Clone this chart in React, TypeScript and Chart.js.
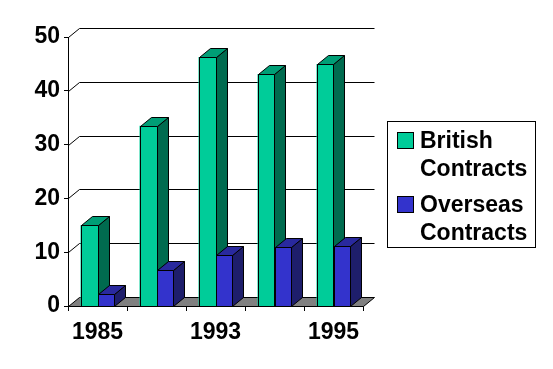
import React, { useEffect, useRef } from "react";
import { Chart, registerables } from "chart.js";

Chart.register(...registerables);

const categories = ["1985", "", "1993", "", "1995"];
const britishContracts = [15, 33.5, 46.3, 43.1, 45];
const overseasContracts = [2.2, 6.6, 9.4, 10.9, 11.2];
const seriesNames = [
  ["British", "Contracts"],
  ["Overseas", "Contracts"],
];
const yMin = 0;
const yMax = 50;
const yStep = 10;

const DX = 11;
const DY = 9;
const FONT = '"Liberation Sans", Arial, sans-serif';

const palette = [
  { front: "#00CC99", side: "#006B4F", top: "#009E76" },
  { front: "#3333CC", side: "#1E1E6B", top: "#29299E" },
];

const threeD = {
  id: "threeD",
  beforeDatasetsDraw(chart: any) {
    const { ctx, chartArea, scales } = chart;
    const { left, right, bottom } = chartArea;
    const y = scales.y;
    ctx.save();
    ctx.lineWidth = 1;
    ctx.strokeStyle = "#000";
    const b = Math.round(bottom) + 0.5;
    const l = Math.round(left) + 0.5;
    const r = Math.round(right) + 0.5;
    ctx.fillStyle = "#808080";
    ctx.beginPath();
    ctx.moveTo(l, b);
    ctx.lineTo(l + DX, b - DY);
    ctx.lineTo(r + DX, b - DY);
    ctx.lineTo(r, b);
    ctx.closePath();
    ctx.fill();
    ctx.stroke();
    for (let v = yMin + yStep; v <= yMax; v += yStep) {
      const yy = Math.round(y.getPixelForValue(v)) + 0.5;
      ctx.beginPath();
      ctx.moveTo(l, yy);
      ctx.lineTo(l + DX, yy - DY);
      ctx.lineTo(r + DX, yy - DY);
      ctx.stroke();
    }
    ctx.restore();
  },
  afterDatasetsDraw(chart: any) {
    const { ctx } = chart;
    ctx.save();
    ctx.lineWidth = 1;
    ctx.strokeStyle = "#000";
    [0, 1].forEach((di) => {
      const c = palette[di];
      const meta = chart.getDatasetMeta(di);
      meta.data.forEach((bar: any) => {
        const p = bar.getProps(["x", "y", "base", "width"], true);
        const x0 = Math.round(p.x - p.width / 2) + 0.5;
        const x1 = Math.round(p.x + p.width / 2) + 0.5;
        const yt = Math.round(p.y) + 0.5;
        const yb = Math.round(p.base) + 0.5;
        // front
        ctx.fillStyle = c.front;
        ctx.fillRect(x0, yt, x1 - x0, yb - yt);
        ctx.strokeRect(x0, yt, x1 - x0, yb - yt);
        // side
        ctx.fillStyle = c.side;
        ctx.beginPath();
        ctx.moveTo(x1, yt);
        ctx.lineTo(x1 + DX, yt - DY);
        ctx.lineTo(x1 + DX, yb - DY);
        ctx.lineTo(x1, yb);
        ctx.closePath();
        ctx.fill();
        ctx.stroke();
        // top
        ctx.fillStyle = c.top;
        ctx.beginPath();
        ctx.moveTo(x0, yt);
        ctx.lineTo(x0 + DX, yt - DY);
        ctx.lineTo(x1 + DX, yt - DY);
        ctx.lineTo(x1, yt);
        ctx.closePath();
        ctx.fill();
        ctx.stroke();
      });
    });
    ctx.restore();
  },
  afterDraw(chart: any) {
    const { ctx } = chart;
    ctx.save();
    ctx.lineWidth = 1;
    ctx.strokeStyle = "#000";
    ctx.strokeRect(387.5, 121.5, 148, 126);
    ctx.font = "bold 23px " + FONT;
    ctx.textBaseline = "alphabetic";
    ctx.textAlign = "left";
    const baselines = [148, 212];
    seriesNames.forEach((lines, i) => {
      const by = baselines[i];
      ctx.fillStyle = palette[i].front;
      ctx.fillRect(397.5, by - 15.5, 16, 16);
      ctx.strokeRect(397.5, by - 15.5, 16, 16);
      ctx.fillStyle = "#000";
      lines.forEach((t, j) => ctx.fillText(t, 420, by + j * 28));
    });
    ctx.restore();
  },
};

export default function App() {
  const ref = useRef<HTMLCanvasElement>(null);
  useEffect(() => {
    const chart = new Chart(ref.current as HTMLCanvasElement, {
      type: "bar",
      data: {
        labels: categories,
        datasets: [
          {
            label: "British Contracts",
            data: britishContracts,
            backgroundColor: palette[0].front,
            borderWidth: 0,
            barPercentage: 1,
            categoryPercentage: 0.576,
          },
          {
            label: "Overseas Contracts",
            data: overseasContracts,
            backgroundColor: palette[1].front,
            borderWidth: 0,
            barPercentage: 1,
            categoryPercentage: 0.576,
          },
        ],
      },
      options: {
        responsive: false,
        animation: false,
        devicePixelRatio: 1,
        layout: { padding: { left: 0, top: 37, right: 190, bottom: 0 } },
        plugins: { legend: { display: false }, tooltip: { enabled: false } },
        scales: {
          x: {
            afterFit: (s: any) => {
              s.height = 63;
            },
            grid: {
              display: true,
              drawOnChartArea: false,
              drawTicks: true,
              tickLength: 5,
              color: "#000",
            },
            border: { display: true, color: "#000" },
            ticks: {
              autoSkip: false,
              maxRotation: 0,
              color: "#000",
              padding: 8,
              font: { family: FONT, size: 23, weight: "bold" },
            },
          },
          y: {
            min: yMin,
            max: yMax,
            afterFit: (s: any) => {
              s.width = 68;
            },
            grid: {
              display: true,
              drawOnChartArea: false,
              drawTicks: true,
              tickLength: 4,
              color: "#000",
            },
            border: { display: true, color: "#000" },
            ticks: {
              stepSize: yStep,
              color: "#000",
              padding: 4,
              font: { family: FONT, size: 23, weight: "bold" },
            },
          },
        },
      },
      plugins: [threeD],
    });
    return () => chart.destroy();
  }, []);
  return (
    <div style={{ position: "absolute", left: 0, top: 0, width: 553, height: 369, background: "#fff" }}>
      <canvas ref={ref} width={553} height={369} />
    </div>
  );
}
